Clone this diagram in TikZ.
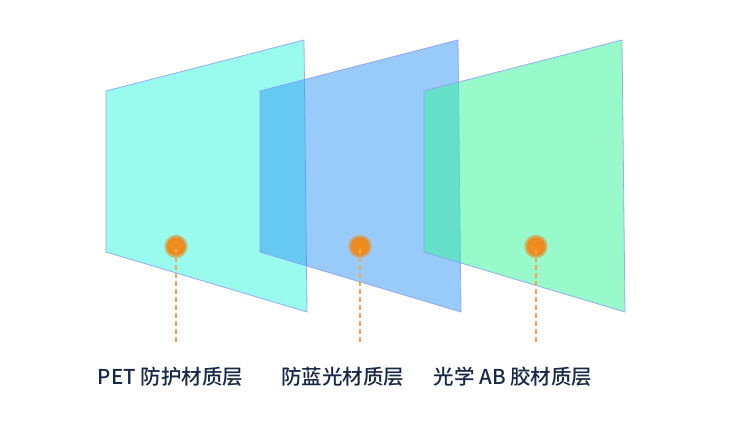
\documentclass[tikz,border=0pt]{standalone}
\usepackage{fontspec}
\setmainfont{Noto Sans CJK SC}[UprightFont=* Medium]
\usepackage{xcolor}
\usetikzlibrary{positioning, calc}

\definecolor{petfill}{RGB}{51,249,223}
\definecolor{bluefill}{RGB}{51,153,247}
\definecolor{abfill}{RGB}{51,247,153}
\definecolor{panelline}{RGB}{140,150,255}
\definecolor{dotorange}{RGB}{240,140,30}
\definecolor{dashorange}{RGB}{242,165,85}
\definecolor{labelnavy}{RGB}{24,40,72}

\tikzset{
    panel/.style={draw=panelline,line width=0.8pt,fill opacity=0.5,draw opacity=0.8},
    dot/.style={circle,fill=dotorange,minimum size=18.5pt,inner sep=0pt,
        draw=dotorange!85!brown,draw opacity=0.6,line width=4.5pt},
    guide/.style={dashorange,line width=1.2pt,dash pattern=on 5pt off 3pt},
    layerlabel/.style={anchor=base,text=labelnavy,font=\fontsize{20.5}{24}\selectfont}
}

\begin{document}
\begin{tikzpicture}[x=1pt,y=-1pt]
    \useasboundingbox[fill=white] (0,0) rectangle (730,420);
    % panels, back to front
    \draw[panel,fill=petfill] (106,91) -- (304,40) -- (307,312) -- (106,252) -- cycle;
    \node[dot] (petdot) at (176,246.5) {};
    \draw[panel,fill=bluefill] (260,91) -- (458,40) -- (461,312) -- (260,252) -- cycle;
    \node[dot] (bluedot) at (360,246.5) {};
    \draw[panel,fill=abfill] (424,91) -- (622,40) -- (625,312) -- (424,252) -- cycle;
    \node[dot] (abdot) at (536,246.5) {};

    % guides and labels
    \coordinate (petend) at (176,343);
    \coordinate (blueend) at (360,343);
    \coordinate (abend) at (536,343);
    \draw[guide] ([yshift=-2pt]petdot.center) -- (petend);
    \draw[guide] ([yshift=-2pt]bluedot.center) -- (blueend);
    \draw[guide] ([yshift=-2pt]abdot.center) -- (abend);
    \node[layerlabel] (petlabel) at (170.5,384) {PET 防护材质层};
    \node[layerlabel] (bluelabel) at (342.5,384) {防蓝光材质层};
    \node[layerlabel] (ablabel) at (513,384) {光学 AB 胶材质层};
\end{tikzpicture}
\end{document}
